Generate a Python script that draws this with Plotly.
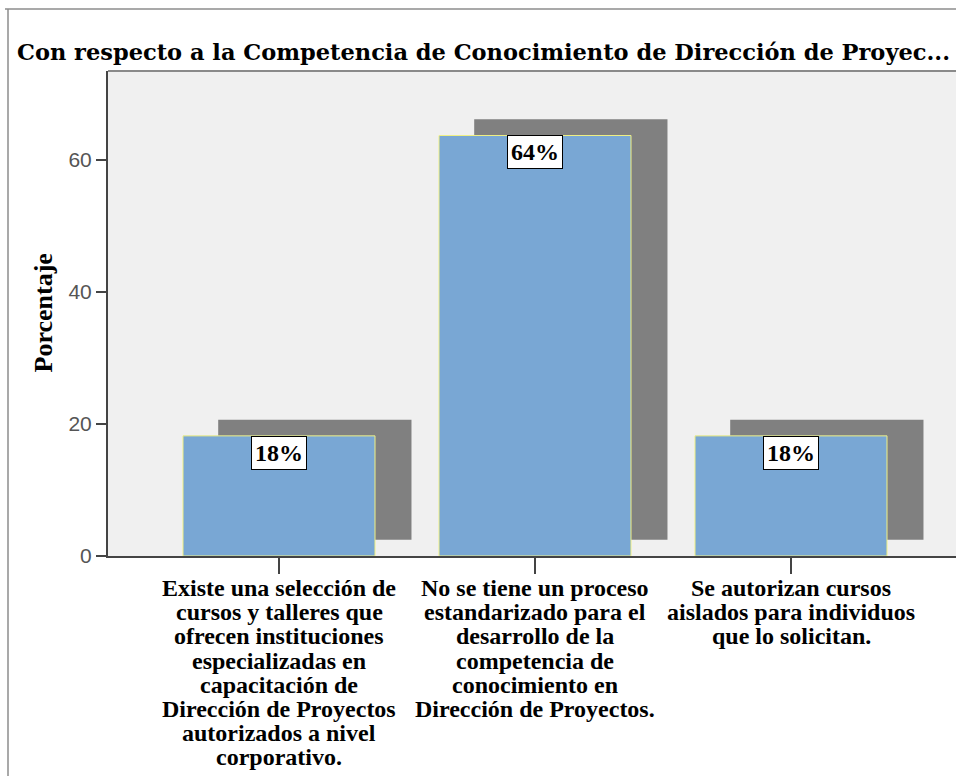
import plotly.graph_objects as go

# ---- data ----
categories = [
    ["Existe una selección de", "cursos y talleres que", "ofrecen instituciones",
     "especializadas en", "capacitación de", "Dirección de Proyectos",
     "autorizados a nivel", "corporativo."],
    ["No se tiene un proceso", "estandarizado para el", "desarrollo de la",
     "competencia de", "conocimiento en", "Dirección de Proyectos."],
    ["Se autorizan cursos", "aislados para individuos", "que lo solicitan."],
]
percentages = [18.18, 63.64, 18.18]
y_ticks = [0, 20, 40, 60]
title_text = "Con respecto a la Competencia de Conocimiento de Dirección de Proyec..."
y_title = "Porcentaje"

# ---- style ----
W, H = 956, 776
ML, MR, MT, MB = 108, 0, 71, 220
plot_w = W - ML - MR
plot_h = H - MT - MB
cat_px = 256.0            # pixel spacing between categories
first_cat_px = 279.0      # pixel x of first category
x0 = (ML - first_cat_px) / cat_px
x1 = x0 + plot_w / cat_px
y_top = 73.4

shadow_dx = 0.14
shadow_dy = 2.45
bar_w = 0.75

xs = list(range(len(categories)))

fig = go.Figure()
# shadows
fig.add_trace(go.Bar(
    x=[i + shadow_dx for i in xs], y=percentages, base=shadow_dy,
    width=bar_w + 0.005, marker=dict(color="#808080", line=dict(width=0)),
    hoverinfo="skip", showlegend=False))
# bars
fig.add_trace(go.Bar(
    x=xs, y=percentages, width=bar_w,
    marker=dict(color="#79A7D4", line=dict(color="#F0F084", width=1)),
    showlegend=False))

serif = "Liberation Serif, Times New Roman, serif"

# value labels
for i, v in zip(xs, percentages):
    fig.add_annotation(x=i, y=v, xref="x", yref="y", text=f"<b>{round(v)}%</b>",
                       showarrow=False, yanchor="top", xanchor="center",
                       bgcolor="white", bordercolor="black", borderwidth=1, borderpad=3,
                       font=dict(family=serif, size=24, color="black"))

# category labels, one annotation per line
line_gap = 24.2
first_line = 32
for i, lines in zip(xs, categories):
    for k, ln in enumerate(lines):
        fig.add_annotation(x=i, y=0, xref="x", yref="paper", text=f"<b>{ln}</b>",
                           showarrow=False, yanchor="middle", xanchor="center",
                           yshift=-(first_line + k * line_gap),
                           font=dict(family=serif, size=24, color="black"))

# y-axis title
fig.add_annotation(x=(43 - ML) / plot_w, y=0.5, xref="paper", yref="paper",
                   text=f"<b>{y_title}</b>", textangle=-90, showarrow=False,
                   xanchor="center", yanchor="middle",
                   font=dict(family=serif, size=26, color="black"))

# frame and plot-top border
fig.add_shape(type="line", xref="paper", yref="paper",
              x0=(5 - ML) / plot_w, x1=1, y0=(H - MB - 9) / plot_h, y1=(H - MB - 9) / plot_h,
              line=dict(color="#8c8c8c", width=1.5))
fig.add_shape(type="line", xref="paper", yref="paper",
              x0=(8 - ML) / plot_w, x1=(8 - ML) / plot_w, y0=-MB / plot_h, y1=(H - MB - 9) / plot_h,
              line=dict(color="#8c8c8c", width=1.5))
fig.add_shape(type="line", xref="paper", yref="paper", x0=0, x1=1, y0=1, y1=1,
              line=dict(color="#8a8a8a", width=2))

fig.update_layout(
    width=W, height=H,
    margin=dict(l=ML, r=MR, t=MT, b=MB),
    paper_bgcolor="white", plot_bgcolor="#F0F0F0",
    barmode="overlay",
    title=dict(text=f"<b>{title_text}</b>", xref="container", yref="container",
               x=17 / W, xanchor="left", y=1 - 52 / H, yanchor="middle",
               font=dict(family="DejaVu Serif, serif", size=22.5, color="black")),
    xaxis=dict(range=[x0, x1], tickvals=xs, showticklabels=False, ticks="outside",
               ticklen=16, tickwidth=2, tickcolor="#444", showline=True,
               linecolor="#444", linewidth=2, showgrid=False, zeroline=False, fixedrange=True),
    yaxis=dict(range=[0, y_top], tickvals=y_ticks, ticks="outside", ticklen=10,
               tickwidth=2, tickcolor="#444", showline=True, linecolor="#444", linewidth=2,
               showgrid=False, zeroline=False,
               tickfont=dict(family="Liberation Sans, Arial, sans-serif", size=21, color="#555")),
)

fig.write_html("out.html", config={"displayModeBar": False},
               post_script="document.body.style.margin='0';document.body.style.overflow='hidden';")
